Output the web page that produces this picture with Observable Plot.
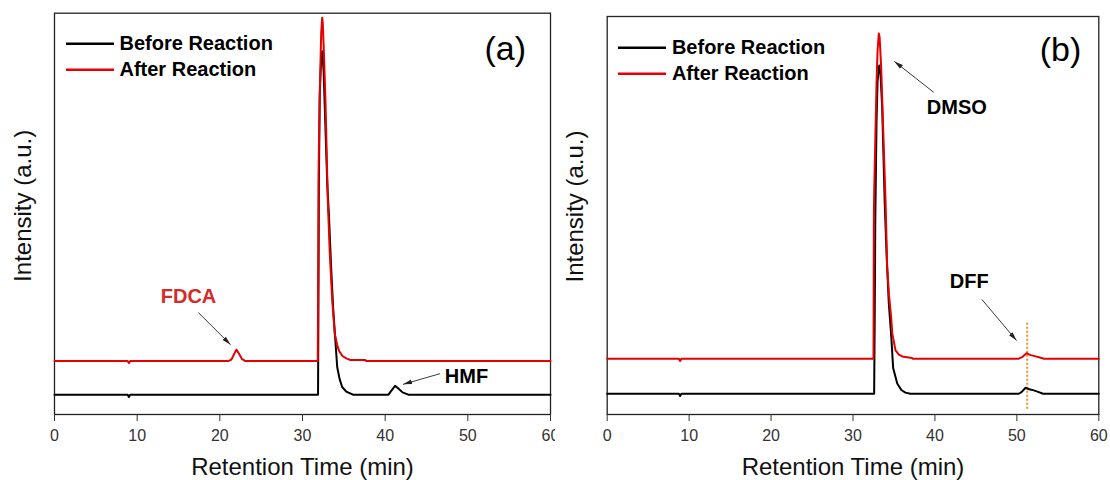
<!DOCTYPE html>
<html><head><meta charset="utf-8">
<script src="https://cdn.jsdelivr.net/npm/d3@7"></script>
<script src="https://cdn.jsdelivr.net/npm/@observablehq/plot@0.6"></script>
<style>
body{margin:0;background:#fff;}
#wrap{position:relative;width:1110px;height:480px;overflow:hidden;}
#wrap > div{position:absolute;top:0;}
svg{overflow:visible;}
</style></head><body>
<div id="wrap"><div id="pa" style="left:0px"></div><div id="pb" style="left:555px"></div></div>
<script>
// ---- shared ----
const xTicks = [0, 10, 20, 30, 40, 50, 60];
const seriesNames = ["Before Reaction", "After Reaction"];
const colorBefore = "#000000";
const colorAfter = "#e60000";
const xTitle = "Retention Time (min)";
const yTitle = "Intensity (a.u.)";

// ---- panel (a) data ----
const tA_before = [0, 8.85, 9.0, 9.15, 31.88, 31.93, 31.98, 32.08, 32.25, 32.4, 32.55, 32.7, 33.0, 33.2, 33.45, 33.7, 33.95, 34.2, 34.5, 34.8, 35.3, 36.1, 40.4, 40.8, 41.2, 41.6, 42.1, 42.8, 60];
const vA_before = [0, 0, -0.006, 0, 0, 0.25, 0.55, 0.78, 0.88, 0.90, 0.85, 0.75, 0.55, 0.47, 0.34, 0.23, 0.15, 0.072, 0.04, 0.020, 0.008, 0, 0, 0.012, 0.023, 0.016, 0.006, 0, 0];
const tA_after = [0, 8.85, 9.0, 9.15, 21.0, 21.4, 21.7, 22.0, 22.3, 22.7, 23.1, 31.85, 31.9, 31.95, 32.1, 32.26, 32.38, 32.45, 32.58, 32.78, 33.06, 33.3, 33.6, 33.9, 34.2, 34.4, 34.8, 35.3, 35.8, 37.6, 37.7, 60];
const vA_after = [0.088, 0.088, 0.083, 0.088, 0.088, 0.092, 0.105, 0.118, 0.108, 0.093, 0.088, 0.088, 0.35, 0.595, 0.80, 0.947, 0.988, 0.975, 0.902, 0.771, 0.509, 0.37, 0.247, 0.160, 0.13, 0.116, 0.102, 0.095, 0.091, 0.091, 0.088, 0.088];
const labelA_text = ["FDCA", "HMF"];
const labelA_x = [16.21, 49.84];
const labelA_y = [0.257, 0.048];
const labelA_color = ["#d42a2a", "#000000"];
const arrowA_x1 = [17.41, 46.63];
const arrowA_y1 = [0.215, 0.055];
const arrowA_x2 = [21.30, 42.17];
const arrowA_y2 = [0.131, 0.027];
const legendA = {x1: 1.45, x2: 7.26, xText: 7.86, yBefore: 0.920, yAfter: 0.852};
const tagA = {text: "(a)", x: 54.52, y: 0.907};

// ---- panel (b) data ----
const tB_before = [0, 8.75, 8.9, 9.05, 32.58, 32.65, 32.72, 32.87, 33.0, 33.2, 33.35, 33.56, 33.88, 34.1, 34.37, 34.66, 34.9, 35.4, 35.9, 36.4, 37.0, 50.24, 50.6, 51.06, 51.5, 52.07, 52.6, 53.2, 60];
const vB_before = [0, 0, -0.006, 0, 0, 0.2, 0.46, 0.72, 0.83, 0.87, 0.85, 0.76, 0.50, 0.37, 0.24, 0.155, 0.068, 0.027, 0.010, 0.003, 0, 0, 0.005, 0.016, 0.012, 0.009, 0.005, 0, 0];
const tB_after = [0, 8.75, 8.9, 9.05, 32.5, 32.55, 32.6, 32.87, 33.0, 33.15, 33.25, 33.44, 33.7, 33.97, 34.17, 34.4, 34.66, 34.79, 35.19, 35.6, 36.0, 37.2, 37.3, 50.24, 50.7, 51.18, 51.6, 52.3, 52.8, 53.3, 60];
const vB_after = [0.093, 0.093, 0.087, 0.093, 0.093, 0.478, 0.55, 0.822, 0.91, 0.955, 0.945, 0.865, 0.690, 0.512, 0.335, 0.26, 0.202, 0.160, 0.115, 0.104, 0.099, 0.095, 0.093, 0.093, 0.098, 0.1075, 0.103, 0.099, 0.096, 0.093, 0.093];
const labelB_text = ["DMSO", "DFF"];
const labelB_x = [42.67, 44.18];
const labelB_y = [0.758, 0.296];
const labelB_color = ["#000000", "#000000"];
const arrowB_x1 = [39.85, 45.73];
const arrowB_y1 = [0.799, 0.250];
const arrowB_x2 = [35.05, 49.96];
const arrowB_y2 = [0.881, 0.141];
const legendB = {x1: 1.37, x2: 7.24, xText: 7.90, yBefore: 0.917, yAfter: 0.848};
const tagB = {text: "(b)", x: 55.33, y: 0.910};
const dffMarker = {x: 51.26, y1: 0.187, y2: -0.044};

const font = "'Liberation Sans', Arial, Helvetica, sans-serif";

function zip(t, v) { return t.map((d, i) => ({t: d, v: v[i]})); }

function filledArrowHead(color, context) {
  const doc = (context && context.document) || document;
  const ns = "http://www.w3.org/2000/svg";
  const m = doc.createElementNS(ns, "marker");
  m.setAttribute("viewBox", "-5 -5 10 10");
  m.setAttribute("markerWidth", "9");
  m.setAttribute("markerHeight", "9");
  m.setAttribute("markerUnits", "userSpaceOnUse");
  m.setAttribute("orient", "auto");
  m.setAttribute("refX", "5");
  m.setAttribute("refY", "0");
  const p = doc.createElementNS(ns, "path");
  p.setAttribute("d", "M-5,-2.6L5,0L-5,2.6Z");
  p.setAttribute("fill", color);
  p.setAttribute("stroke", "none");
  m.appendChild(p);
  return m;
}

function arrowMark(arrows) {
  try {
    return Plot.link(arrows, {x1: "x1", y1: "y1", x2: "x2", y2: "y2", stroke: "#222", strokeWidth: 0.9, markerEnd: filledArrowHead});
  } catch (e) {
    return Plot.arrow(arrows, {x1: "x1", y1: "y1", x2: "x2", y2: "y2", stroke: "#222", strokeWidth: 0.9, headLength: 9, headAngle: 40});
  }
}

function panel(o) {
  const before = zip(o.tBefore, o.vBefore);
  const after = zip(o.tAfter, o.vAfter);
  const labels = o.labelText.map((s, i) => ({s, x: o.labelX[i], y: o.labelY[i], c: o.labelColor[i]}));
  const arrows = o.ax1.map((d, i) => ({x1: d, y1: o.ay1[i], x2: o.ax2[i], y2: o.ay2[i]}));
  const marks = [
    Plot.frame({stroke: "#222", strokeWidth: 1.3}),
    Plot.axisX({ticks: xTicks, tickSize: 7, tickPadding: 8, fontSize: 16, color: "#333", label: null, tickFormat: d => String(d)}),
    Plot.text([xTitle], {frameAnchor: "bottom", dy: 60, fontSize: 24, fill: "#111"}),
    Plot.text([yTitle], {frameAnchor: "left", textAnchor: "middle", rotate: -90, dx: o.yTitleDx, dy: o.yTitleDy, fontSize: 24, fill: "#111"}),
  ];
  if (o.marker) marks.push(Plot.ruleX([o.marker.x], {y1: o.marker.y1, y2: o.marker.y2, stroke: "#f0902a", strokeWidth: 2, strokeDasharray: "2,2"}));
  marks.push(
    Plot.line(before, {x: "t", y: "v", stroke: colorBefore, strokeWidth: 2}),
    Plot.line(after, {x: "t", y: "v", stroke: colorAfter, strokeWidth: 2}),
    Plot.ruleY([o.legend.yBefore], {x1: o.legend.x1, x2: o.legend.x2, stroke: colorBefore, strokeWidth: 2.5}),
    Plot.ruleY([o.legend.yAfter], {x1: o.legend.x1, x2: o.legend.x2, stroke: colorAfter, strokeWidth: 2.5}),
    Plot.text([seriesNames[0]], {x: o.legend.xText, y: o.legend.yBefore, textAnchor: "start", fontSize: 20, fontWeight: "bold", fill: "#000"}),
    Plot.text([seriesNames[1]], {x: o.legend.xText, y: o.legend.yAfter, textAnchor: "start", fontSize: 20, fontWeight: "bold", fill: "#000"}),
    Plot.text([o.tag.text], {x: o.tag.x, y: o.tag.y, fontSize: 34, fill: "#000"}),
    arrowMark(arrows),
    Plot.text(labels, {x: "x", y: "y", text: "s", fill: "c", fontSize: 20, fontWeight: "bold"})
  );
  return Plot.plot({
    width: 555, height: 480,
    marginLeft: o.marginLeft, marginRight: o.marginRight, marginTop: o.marginTop, marginBottom: 66,
    x: {domain: [0, 60]},
    y: {domain: o.yDomain, axis: null},
    color: {type: "identity"},
    style: {fontFamily: font, background: "white", overflow: "visible"},
    marks
  });
}

document.getElementById("pa").appendChild(panel({
  tBefore: tA_before, vBefore: vA_before, tAfter: tA_after, vAfter: vA_after,
  labelText: labelA_text, labelX: labelA_x, labelY: labelA_y, labelColor: labelA_color,
  ax1: arrowA_x1, ay1: arrowA_y1, ax2: arrowA_x2, ay2: arrowA_y2,
  legend: legendA, tag: tagA, yDomain: [-0.052, 1],
  marginLeft: 54, marginRight: 5, marginTop: 12.7, yTitleDx: -30.7, yTitleDy: -8
}));
document.getElementById("pb").appendChild(panel({
  tBefore: tB_before, vBefore: vB_before, tAfter: tB_after, vAfter: vB_after,
  labelText: labelB_text, labelX: labelB_x, labelY: labelB_y, labelColor: labelB_color,
  ax1: arrowB_x1, ay1: arrowB_y1, ax2: arrowB_x2, ay2: arrowB_y2,
  legend: legendB, tag: tagB, yDomain: [-0.055, 1], marker: dffMarker,
  marginLeft: 51.7, marginRight: 11.7, marginTop: 16, yTitleDx: -31.7, yTitleDy: -9
}));
</script>
</body></html>
